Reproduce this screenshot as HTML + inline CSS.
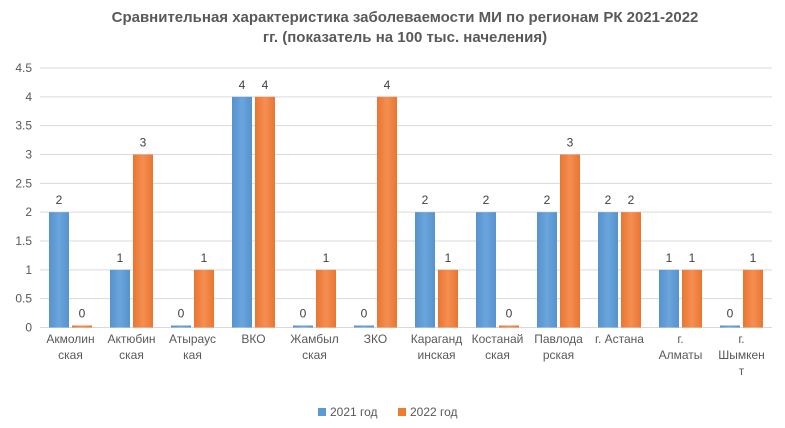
<!DOCTYPE html>
<html><head><meta charset="utf-8"><style>
body{margin:0;background:#fff;font-family:"Liberation Sans",sans-serif;}
svg text{font-family:"Liberation Sans",sans-serif;}
</style></head><body>
<svg width="785" height="423" xmlns="http://www.w3.org/2000/svg">
<defs>
<linearGradient id="gb" x1="0" x2="1"><stop offset="0" stop-color="#5692cd"/><stop offset="0.5" stop-color="#6aa5dc"/><stop offset="1" stop-color="#5692cd"/></linearGradient>
<linearGradient id="go" x1="0" x2="1"><stop offset="0" stop-color="#ea7531"/><stop offset="0.5" stop-color="#f48f52"/><stop offset="1" stop-color="#ea7531"/></linearGradient>
</defs>
<text x="405" y="22" text-anchor="middle" font-size="15" font-weight="bold" fill="#595959">Сравнительная характеристика заболеваемости МИ по регионам РК 2021-2022</text>
<text x="405" y="42" text-anchor="middle" font-size="15" font-weight="bold" fill="#595959">гг. (показатель на 100 тыс. начеления)</text>
<g id="grid"></g><g id="bars"></g><g id="labels"></g>
<g>
<rect x="318" y="408" width="8" height="8" fill="#5b9bd5"/>
<text x="330" y="416" font-size="12" fill="#595959">2021 год</text>
<rect x="398" y="408" width="8" height="8" fill="#ed7d31"/>
<text x="410" y="416" font-size="12" fill="#595959">2022 год</text>
</g>
</svg>
<script>
const categories=[["Акмолин","ская"],["Актюбин","ская"],["Атыраус","кая"],["ВКО"],["Жамбыл","ская"],["ЗКО"],["Караганд","инская"],["Костанай","ская"],["Павлода","рская"],["г. Астана"],["г.","Алматы"],["г.","Шымкен","т"]];
const values2021=[2,1,0,4,0,0,2,2,2,2,1,0];
const values2022=[0,3,1,4,1,4,1,0,3,2,1,1];
const yTicks=[0,0.5,1,1.5,2,2.5,3,3.5,4,4.5];
const NS="http://www.w3.org/2000/svg";
const left=40,right=772,y0=327.5,yTop=68,yMax=4.5;
const cw=(right-left)/categories.length;
const y=v=>y0-(v/yMax)*(y0-yTop);
const xc=i=>left+cw*(i+0.5);
function mk(tag,attrs,parent){const e=document.createElementNS(NS,tag);for(const k in attrs)e.setAttribute(k,attrs[k]);parent.appendChild(e);return e;}
const grid=document.getElementById('grid'),bars=document.getElementById('bars'),labels=document.getElementById('labels');
yTicks.forEach(t=>{
 const l=mk('line',{x1:left,x2:right,y1:y(t),y2:y(t),stroke:'#d9d9d9','stroke-width':1},grid);
 
 
 const tx=mk('text',{x:32,y:y(t)+4,'text-anchor':'end','font-size':12,fill:'#595959'},grid);
 tx.textContent=String(t);
 
 
});
const bw=20,gap=3;
categories.forEach((c,i)=>{
 [[values2021[i],'url(#gb)',-bw-gap/2,'2021'],[values2022[i],'url(#go)',gap/2,'2022']].forEach(([v,f,off,yr])=>{
  const h=Math.max(y0-y(v),2);
  const r=mk('rect',{x:xc(i)+off,y:y0-h,width:bw,height:h,fill:f},bars);
  
  
  const t=mk('text',{x:xc(i)+off+bw/2,y:y0-h-8,'text-anchor':'middle','font-size':12,fill:'#404040'},labels);
  t.textContent=String(v);
  
  
 });
 c.forEach((line,j)=>{
  const t=mk('text',{x:xc(i),y:343+j*16,'text-anchor':'middle','font-size':12,fill:'#595959'},labels);
  t.textContent=line;
  
  
 });
});
</script>
</body></html>
